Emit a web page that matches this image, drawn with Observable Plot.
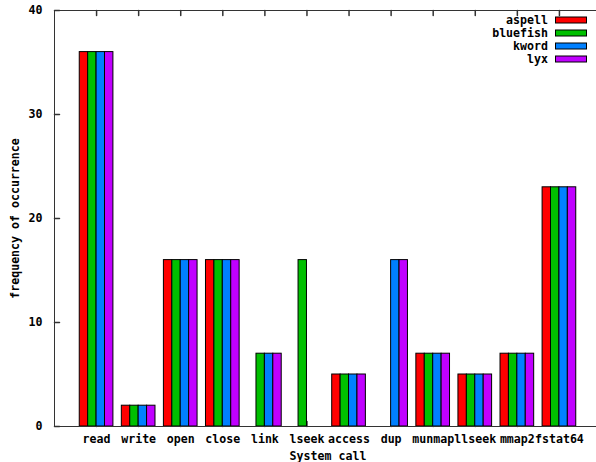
<!DOCTYPE html>
<html><head><meta charset="utf-8">
<script src="https://cdn.jsdelivr.net/npm/d3@7"></script>
<script src="https://cdn.jsdelivr.net/npm/@observablehq/plot@0.6"></script>
<style>body{margin:0;background:#fff;} svg{display:block;}</style>
</head><body><div id="chart"></div>
<script>
const categories = ["read","write","open","close","link","lseek","access","dup","munmap","llseek","mmap2","fstat64"];
const seriesNames = ["aspell","bluefish","kword","lyx"];
const seriesColors = ["#ff0000","#00c000","#0080ff","#c000ff"];
const aspell   = [36,2,16,16,0,0,5,0,7,5,7,23];
const bluefish = [36,2,16,16,7,16,5,0,7,5,7,23];
const kword    = [36,2,16,16,7,0,5,16,7,5,7,23];
const lyx      = [36,2,16,16,7,0,5,16,7,5,7,23];
const yTicks = [0,10,20,30,40];
const xLabel = "System call";
const yLabel = "frequency of occurrence";

const seriesValues = [aspell, bluefish, kword, lyx];
const rows = [];
seriesValues.forEach((vals, k) => vals.forEach((v, i) => rows.push({i, k, series: seriesNames[k], value: v})));
const catIdx = categories.map((c, i) => i);
const groupWidth = 0.8, barW = groupWidth / seriesNames.length;

const tickShape = {draw(context, l) { context.moveTo(0, 0); context.lineTo(0, -l); }};

const W = 596, H = 462;
const fontFamily = "'DejaVu Sans Mono', monospace";
const fs = 11.6;
const plot = Plot.plot({
  width: W, height: H,
  marginLeft: 54, marginRight: -5, marginTop: 10, marginBottom: 36,
  style: {fontSize: fs + "px", fontFamily, fontWeight: "bold", background: "#fff", color: "#000"},
  x: {type: "linear", domain: [-1, categories.length], axis: null},
  y: {domain: [0, 40], axis: null},
  color: {domain: seriesNames, range: seriesColors},
  marks: [
    Plot.vector(yTicks, {y: d => d, frameAnchor: "left", length: 5, rotate: 90, anchor: "start", shape: tickShape, stroke: "#333"}),
    Plot.vector(catIdx, {x: d => d, frameAnchor: "top", length: 5, rotate: 180, anchor: "start", shape: tickShape, stroke: "#333"}),
    Plot.vector(catIdx, {x: d => d, frameAnchor: "bottom", length: 5, rotate: 0, anchor: "start", shape: tickShape, stroke: "#333"}),
    Plot.rectY(rows, {
      x1: d => d.i - groupWidth / 2 + d.k * barW,
      x2: d => d.i - groupWidth / 2 + (d.k + 1) * barW,
      y1: 0, y2: "value", fill: "series", stroke: "#000", strokeWidth: 1
    }),
    Plot.frame({stroke: "#333"}),
    Plot.axisY(yTicks, {anchor: "left", tickSize: 0, tickPadding: 12, label: null, fill: "#000"}),
    Plot.axisX(catIdx, {anchor: "bottom", tickSize: 0, tickPadding: 8, label: null, fill: "#000", tickFormat: i => categories[i]}),
    Plot.text([xLabel], {text: d => d, frameAnchor: "bottom", dy: 30, lineAnchor: "middle", fill: "#000"}),
    Plot.text([yLabel], {text: d => d, frameAnchor: "left", dx: -39, rotate: -90, lineAnchor: "middle", textAnchor: "middle", fill: "#000"})
  ]
});
document.getElementById("chart").appendChild(plot);

// legend (gnuplot-style key, top right inside plot)
const svg = d3.select(plot);
const key = svg.append("g").attr("font-family", fontFamily).attr("font-size", fs).attr("font-weight", "bold");
seriesNames.forEach((name, k) => {
  const cy = 20 + k * 13;
  key.append("text").attr("x", 548).attr("y", cy).attr("dy", "0.35em")
    .attr("text-anchor", "end").attr("fill", "#000").text(name);
  key.append("rect").attr("x", 555.5).attr("y", cy - 3).attr("width", 31).attr("height", 6)
    .attr("fill", seriesColors[k]).attr("stroke", "#000").attr("stroke-width", 1);
});
</script>
</body></html>
